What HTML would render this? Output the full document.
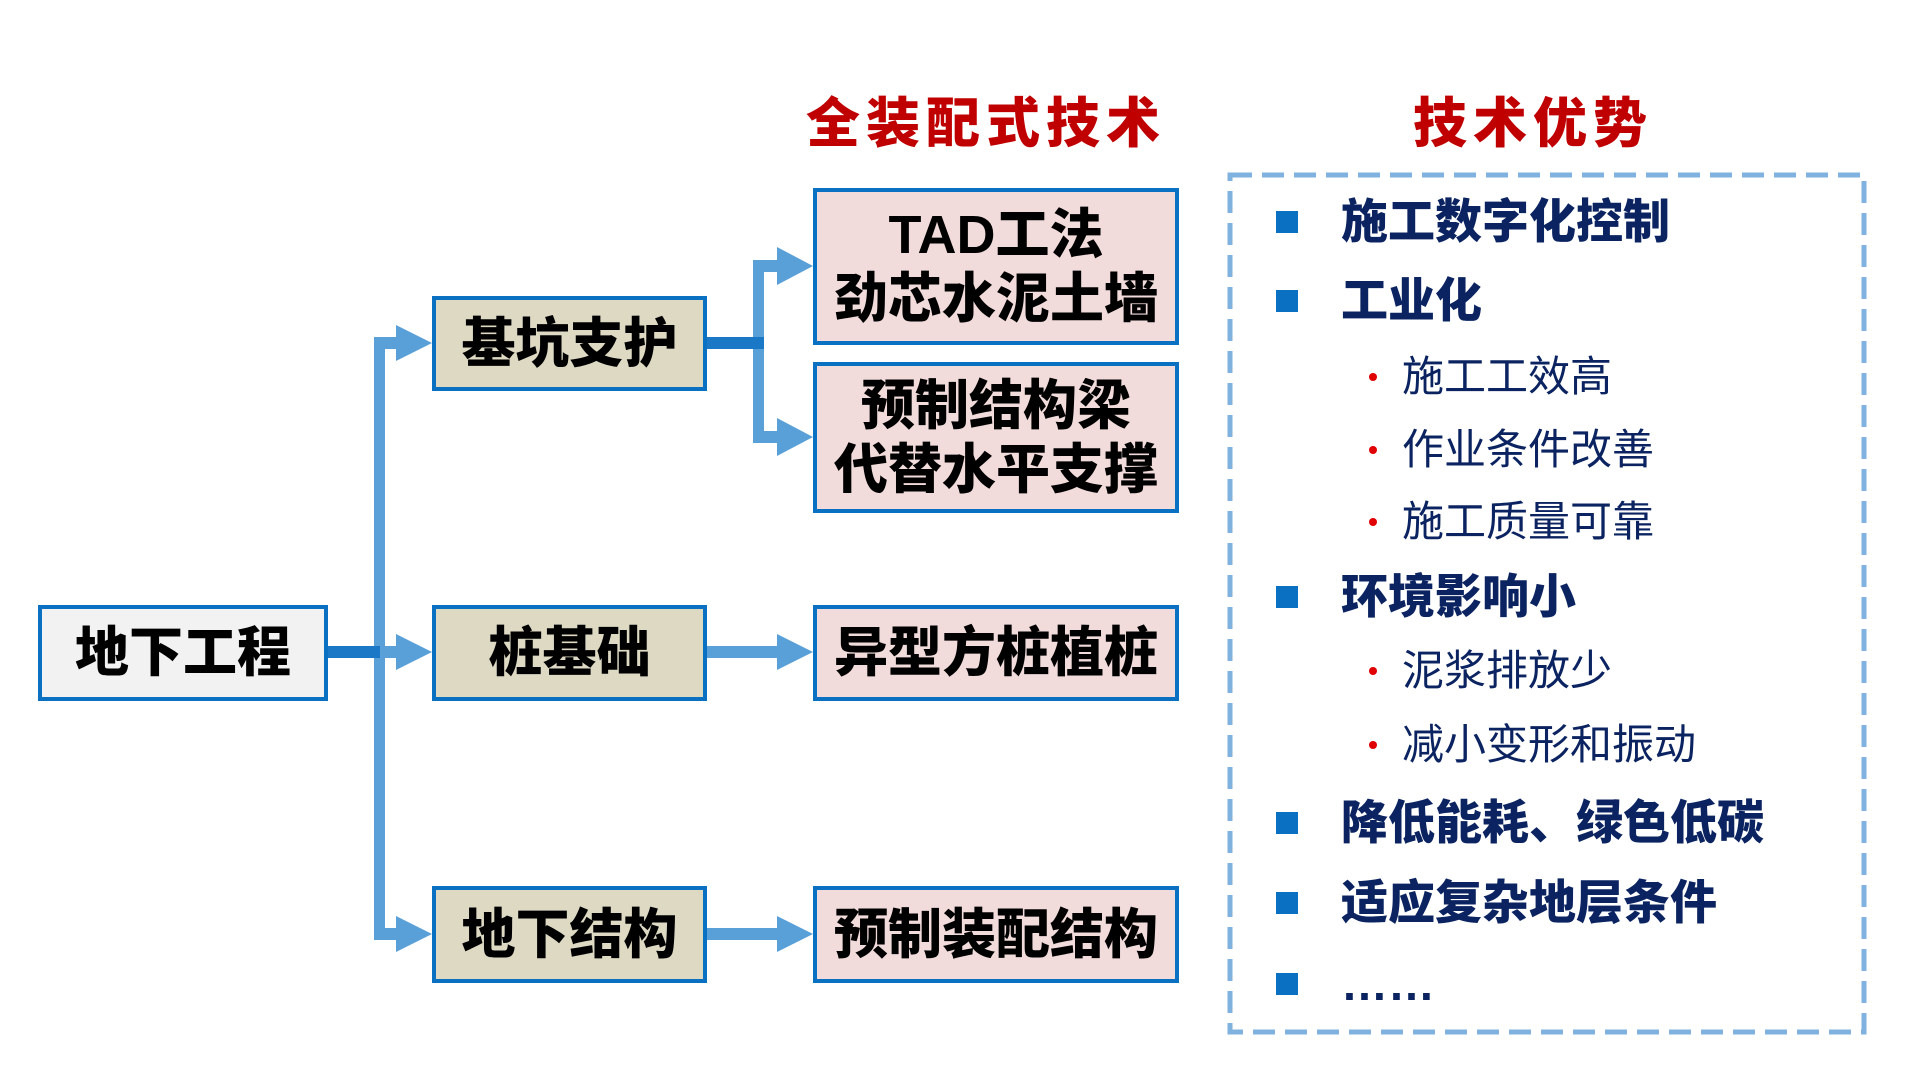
<!DOCTYPE html>
<html><head><meta charset="utf-8"><style>
body{margin:0;width:1920px;height:1080px;background:#fff;position:relative;overflow:hidden;font-family:"Liberation Sans","Noto Sans CJK SC",sans-serif;}
.b{position:absolute;box-sizing:border-box;border:4px solid #0a70c2;display:flex;align-items:center;justify-content:center;text-align:center;font-weight:900;color:#000;font-size:54px;line-height:64px;}
.g{background:#f2f2f2}.t{background:#ddd9c3}.p{background:#f2dcdb}
.title{position:absolute;color:#c00000;font-weight:900;font-size:54px;letter-spacing:6px;line-height:60px;top:94px;}
.sq{position:absolute;left:1276px;width:22px;height:22px;background:#0a70c2}
.h{position:absolute;left:1341px;color:#0b2461;font-weight:900;font-size:47px;line-height:50px;white-space:nowrap}
.s{position:absolute;left:1402px;color:#0b2461;font-size:42px;line-height:46px;white-space:nowrap}
.d{position:absolute;left:1369px;width:8px;height:8px;border-radius:50%;background:#e00000}
</style></head><body>
<svg width="1920" height="1080" style="position:absolute;left:0;top:0">
<rect x="1230" y="175" width="634" height="857" fill="none" stroke="#7fb2de" stroke-width="5" stroke-dasharray="22 10"/>
<g fill="#5aa0d8">
<rect x="374" y="337" width="11" height="603"/>
<rect x="374" y="337" width="24" height="12"/><polygon points="396,325 432,343 396,361"/>
<rect x="374" y="646" width="24" height="12"/><polygon points="396,634 432,652 396,670"/>
<rect x="374" y="928" width="24" height="12"/><polygon points="396,916 432,934 396,952"/>
<rect x="753" y="260" width="11" height="183"/>
<rect x="753" y="260" width="26" height="12"/><polygon points="777,247 813,266 777,285"/>
<rect x="753" y="431" width="26" height="12"/><polygon points="777,418 813,437 777,456"/>
<rect x="707" y="646" width="72" height="12"/><polygon points="777,634 813,652 777,670"/>
<rect x="707" y="928" width="72" height="12"/><polygon points="777,916 813,934 777,952"/>
</g>
<g fill="#1a78c6">
<rect x="328" y="646" width="52" height="12"/>
<rect x="707" y="337" width="57" height="12"/>
</g>
</svg>
<div class="title" style="left:806px">全装配式技术</div>
<div class="title" style="left:1413px">技术优势</div>
<div class="b g" style="left:38px;top:605px;width:290px;height:96px">地下工程</div>
<div class="b t" style="left:432px;top:296px;width:275px;height:95px">基坑支护</div>
<div class="b t" style="left:432px;top:605px;width:275px;height:96px">桩基础</div>
<div class="b t" style="left:432px;top:886px;width:275px;height:97px">地下结构</div>
<div class="b p" style="left:813px;top:188px;width:366px;height:157px">TAD工法<br>劲芯水泥土墙</div>
<div class="b p" style="left:813px;top:362px;width:366px;height:151px">预制结构梁<br>代替水平支撑</div>
<div class="b p" style="left:813px;top:605px;width:366px;height:96px">异型方桩植桩</div>
<div class="b p" style="left:813px;top:886px;width:366px;height:97px">预制装配结构</div>
<div class="sq" style="top:211px"></div><div class="h" style="top:197px">施工数字化控制</div>
<div class="sq" style="top:290px"></div><div class="h" style="top:276px">工业化</div>
<div class="d" style="top:373px"></div><div class="s" style="top:354px">施工工效高</div>
<div class="d" style="top:446px"></div><div class="s" style="top:427px">作业条件改善</div>
<div class="d" style="top:518px"></div><div class="s" style="top:499px">施工质量可靠</div>
<div class="sq" style="top:586px"></div><div class="h" style="top:572px">环境影响小</div>
<div class="d" style="top:667px"></div><div class="s" style="top:648px">泥浆排放少</div>
<div class="d" style="top:741px"></div><div class="s" style="top:722px">减小变形和振动</div>
<div class="sq" style="top:812px"></div><div class="h" style="top:798px">降低能耗、绿色低碳</div>
<div class="sq" style="top:892px"></div><div class="h" style="top:878px">适应复杂地层条件</div>
<div class="sq" style="top:973px"></div><div class="h" style="top:959px">……</div>
</body></html>
